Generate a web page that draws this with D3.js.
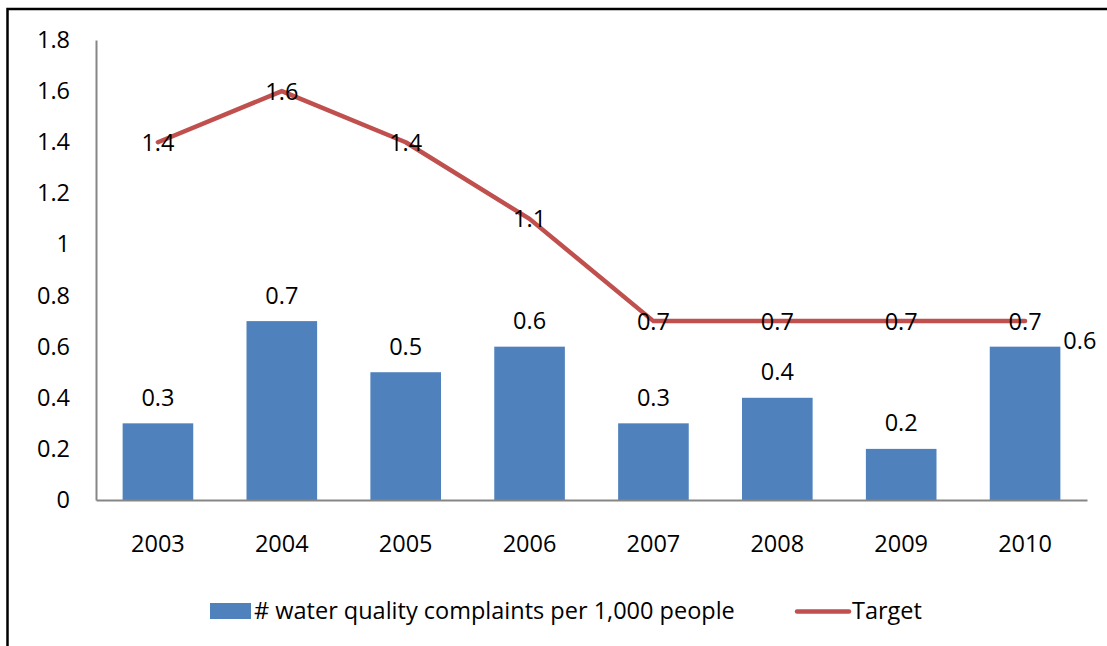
<!DOCTYPE html>
<html>
<head>
<meta charset="utf-8">
<script src="https://cdn.jsdelivr.net/npm/d3@7"></script>
<style>
  html, body { margin: 0; padding: 0; background: #fff; }
  svg { display: block; font-family: "Open Sans", "Noto Sans", sans-serif; }
</style>
</head>
<body>
<svg id="chart" width="1107" height="646"></svg>
<script>
// Water quality complaints vs. target, 2003–2010
const years = ["2003", "2004", "2005", "2006", "2007", "2008", "2009", "2010"];
const complaints = [0.3, 0.7, 0.5, 0.6, 0.3, 0.4, 0.2, 0.6];
const target = [1.4, 1.6, 1.4, 1.1, 0.7, 0.7, 0.7, 0.7];
const yTicks = [0, 0.2, 0.4, 0.6, 0.8, 1, 1.2, 1.4, 1.6, 1.8];
const seriesNames = ["# water quality complaints per 1,000 people", "Target"];

const barColor = "#4F81BD";
const lineColor = "#C0504D";
const axisColor = "#868686";
const fontSize = 23.5;
const fontFamily = "'Open Sans', 'Noto Sans', sans-serif";

const svg = d3.select("#chart");

// outer frame (runs off the right and bottom edges)
svg.append("rect")
  .attr("x", 7.5).attr("y", 9)
  .attr("width", 1130).attr("height", 680)
  .attr("fill", "none").attr("stroke", "#000").attr("stroke-width", 2.5);

const plot = { left: 96, right: 1087, top: 40, bottom: 500 };

const x = d3.scaleBand()
  .domain(years)
  .range([plot.left, plot.right])
  .paddingInner(0.43)
  .paddingOuter(0.215);

const y = d3.scaleLinear()
  .domain([0, 1.8])
  .range([plot.bottom, plot.top]);

// bars
svg.append("g").selectAll("rect")
  .data(complaints)
  .join("rect")
  .attr("x", (d, i) => x(years[i]))
  .attr("y", d => y(d))
  .attr("width", x.bandwidth())
  .attr("height", d => y(0) - y(d))
  .attr("fill", barColor);

// axes
const yAxis = svg.append("g")
  .attr("transform", `translate(${plot.left},0)`)
  .call(d3.axisLeft(y).tickValues(yTicks).tickSize(0).tickPadding(26)
    .tickFormat(d => d3.format("")(+d.toFixed(1))));
yAxis.select(".domain").attr("stroke", axisColor).attr("stroke-width", 2);
yAxis.selectAll("text")
  .attr("font-size", fontSize).attr("fill", "#000")
  .attr("font-family", fontFamily);

const xAxis = svg.append("g")
  .attr("transform", `translate(0,${plot.bottom})`)
  .call(d3.axisBottom(x).tickSize(0).tickPadding(35));
xAxis.select(".domain").attr("stroke", axisColor).attr("stroke-width", 2);
xAxis.selectAll("text")
  .attr("font-size", fontSize).attr("fill", "#000")
  .attr("font-family", fontFamily);

// target line
const line = d3.line()
  .x((d, i) => x(years[i]) + x.bandwidth() / 2)
  .y(d => y(d));

svg.append("path")
  .datum(target)
  .attr("d", line)
  .attr("fill", "none")
  .attr("stroke", lineColor)
  .attr("stroke-width", 4.5)
  .attr("stroke-linecap", "round")
  .attr("stroke-linejoin", "round");

// target value labels, centred on each point
svg.append("g").selectAll("text")
  .data(target)
  .join("text")
  .attr("x", (d, i) => x(years[i]) + x.bandwidth() / 2)
  .attr("y", d => y(d))
  .attr("dy", "0.36em")
  .attr("text-anchor", "middle")
  .attr("font-size", fontSize)
  .text(d => d);

// bar value labels above each bar; moved beside the bar when it would
// collide with the target label at the same year
svg.append("g").selectAll("text")
  .data(complaints)
  .join("text")
  .each(function (d, i) {
    const cx = x(years[i]) + x.bandwidth() / 2;
    const top = y(d);
    const clash = Math.abs((top - 26) - y(target[i])) < 20;
    const t = d3.select(this);
    if (clash) {
      t.attr("x", x(years[i]) + x.bandwidth() + 3)
       .attr("y", top - 6)
       .attr("text-anchor", "start");
    } else {
      t.attr("x", cx)
       .attr("y", top - 26)
       .attr("text-anchor", "middle");
    }
  })
  .attr("dy", "0.36em")
  .attr("font-size", fontSize)
  .text(d => d);

// legend
const legend = svg.append("g");
legend.append("rect")
  .attr("x", 210).attr("y", 603)
  .attr("width", 41).attr("height", 16)
  .attr("fill", barColor);
legend.append("text")
  .attr("x", 254).attr("y", 611).attr("dy", "0.36em")
  .attr("font-size", fontSize)
  .text(seriesNames[0]);
legend.append("line")
  .attr("x1", 797).attr("x2", 849)
  .attr("y1", 611.5).attr("y2", 611.5)
  .attr("stroke", lineColor).attr("stroke-width", 4.5)
  .attr("stroke-linecap", "round");
legend.append("text")
  .attr("x", 852).attr("y", 611).attr("dy", "0.36em")
  .attr("font-size", fontSize)
  .text(seriesNames[1]);
</script>
</body>
</html>
